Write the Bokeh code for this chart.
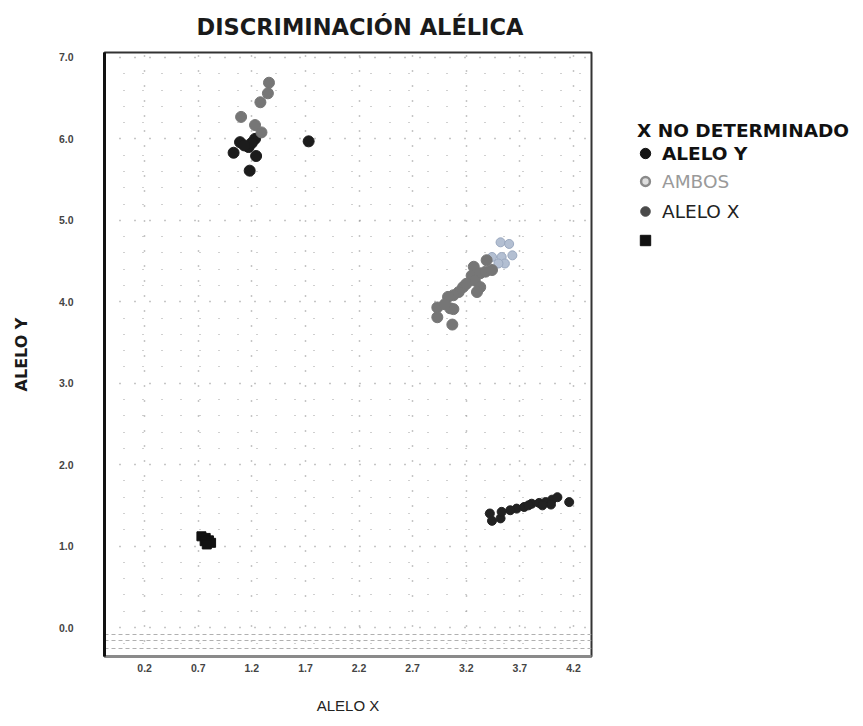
from bokeh.plotting import figure
from bokeh.layouts import row
from bokeh.models import Legend, LegendItem, FixedTicker, Range1d, Grid
from bokeh.embed import file_html
from bokeh.resources import INLINE

# ---- data ----
x_ticks = [0.2, 0.7, 1.2, 1.7, 2.2, 2.7, 3.2, 3.7, 4.2]
y_ticks = [0.0, 1.0, 2.0, 3.0, 4.0, 5.0, 6.0, 7.0]
y_minor = [-0.2, 0.2, 0.4, 0.6, 0.8, 1.2, 1.4, 1.6, 1.8, 2.2, 2.4, 2.6, 2.8,
           3.2, 3.4, 3.6, 3.8, 4.2, 4.4, 4.6, 4.8, 5.2, 5.4, 5.6, 5.8,
           6.2, 6.4, 6.6, 6.8]
strip_lines = [-0.08, -0.16, -0.26]

# ALELO Y (dark points, top-left cluster)
aleloy_x = [1.23, 1.09, 1.03, 1.17, 1.24, 1.18, 1.73, 1.20, 1.13]
aleloy_y = [6.00, 5.96, 5.83, 5.90, 5.79, 5.61, 5.97, 5.95, 5.92]

# grey points (top-left upper part and middle cluster)
grey_x = [1.36, 1.35, 1.28, 1.10, 1.23, 1.29,
          3.27, 3.25, 3.33, 3.28, 3.33, 3.17, 3.13, 3.08, 3.03, 3.05, 3.08,
          2.93, 2.93, 3.07, 3.39, 3.38, 3.44, 3.30, 3.20, 3.00]
grey_y = [6.69, 6.56, 6.45, 6.27, 6.17, 6.08,
          4.43, 4.32, 4.35, 4.26, 4.18, 4.18, 4.12, 4.08, 4.06, 3.92, 3.91,
          3.93, 3.81, 3.72, 4.51, 4.37, 4.39, 4.12, 4.22, 3.97]

# AMBOS (light points at the top of the middle cluster)
ambos_x = [3.44, 3.53, 3.56, 3.50, 3.52, 3.60, 3.63]
ambos_y = [4.55, 4.55, 4.47, 4.47, 4.73, 4.71, 4.57]

# dark points, bottom-right cluster
alelox_x = [3.44, 3.52, 3.42, 3.53, 3.67, 3.74, 3.81, 3.88, 3.94, 4.00,
            4.05, 3.99, 4.16, 3.91, 3.61, 3.78]
alelox_y = [1.31, 1.34, 1.40, 1.42, 1.46, 1.48, 1.52, 1.53, 1.54, 1.57,
            1.60, 1.51, 1.54, 1.50, 1.44, 1.50]

# squares (bottom-left cluster)
ntc_x = [0.73, 0.77, 0.80, 0.76, 0.82, 0.78]
ntc_y = [1.12, 1.10, 1.07, 1.06, 1.04, 1.02]

# no determinado (none)
nd_x = []
nd_y = []

legend_labels = ["X NO DETERMINADO", "ALELO Y", "AMBOS", "ALELO X", " "]

FONT = "Liberation Sans"
BOLD = "DejaVu Sans"

H = 718
FRAME_TOP = 52
FRAME_BOTTOM = 656
p = figure(width=596, height=H, output_backend="svg", toolbar_location=None,
           x_range=Range1d(-0.174, 4.368), y_range=Range1d(-0.356, 7.061),
           min_border_left=104, min_border_right=5, min_border_top=FRAME_TOP,
           min_border_bottom=H - FRAME_BOTTOM)

p.title.text = "DISCRIMINACIÓN ALÉLICA"
p.title.align = "left"
p.title.offset = 92
p.title.vertical_align = "middle"
p.title.text_font = BOLD
p.title.text_font_size = "22.5px"
p.title.text_font_style = "bold"
p.title.text_color = "#1a1a1a"
p.title.standoff = 23

p.outline_line_color = "#333333"
p.outline_line_width = 2
p.background_fill_color = "white"

xax = p.xaxis[0]
xax.ticker = FixedTicker(ticks=x_ticks)
xax.major_label_overrides = {t: f"{t:.1f}" for t in x_ticks}
xax.axis_label = "ALELO X"
xax.axis_label_text_font = FONT
xax.axis_label_text_font_size = "15px"
xax.axis_label_text_font_style = "normal"
xax.axis_label_text_color = "#222222"
xax.axis_label_standoff = 22
xax.major_label_text_font = FONT
xax.major_label_text_font_size = "10.5px"
xax.major_label_text_font_style = "bold"
xax.major_label_text_color = "#444444"
xax.major_label_standoff = 1
xax.major_tick_line_color = None
xax.minor_tick_line_color = None
xax.axis_line_color = "#8a8a8a"
xax.axis_line_width = 3

yax = p.yaxis[0]
yax.ticker = FixedTicker(ticks=y_ticks, minor_ticks=y_minor)
yax.major_label_overrides = {t: f"{t:.1f}" for t in y_ticks}
yax.axis_label = "ALELO Y"
yax.axis_label_text_font = BOLD
yax.axis_label_text_font_size = "16px"
yax.axis_label_text_font_style = "bold"
yax.axis_label_text_color = "#1a1a1a"
yax.axis_label_standoff = 25
yax.major_label_text_font = FONT
yax.major_label_text_font_size = "10.5px"
yax.major_label_text_font_style = "bold"
yax.major_label_text_color = "#444444"
yax.major_label_standoff = 25
yax.major_tick_line_color = None
yax.minor_tick_line_color = None
yax.axis_line_color = "#111111"
yax.axis_line_width = 3

p.xgrid.grid_line_color = "#8c8c8c"
p.xgrid.grid_line_dash = "1 14"
p.xgrid.grid_line_width = 1.5
p.ygrid.grid_line_color = "#8c8c8c"
p.ygrid.grid_line_dash = "1 14"
p.ygrid.grid_line_width = 1.5
p.ygrid.minor_grid_line_color = "#a0a0a0"
p.ygrid.minor_grid_line_dash = "1 18"
p.ygrid.minor_grid_line_width = 1.2
p.add_layout(Grid(dimension=1, ticker=FixedTicker(ticks=strip_lines),
                  grid_line_color="#b0b0b0", grid_line_dash="4 3",
                  grid_line_width=1))

p.scatter(nd_x, nd_y, marker="x", size=13, line_color="#111111", line_width=3)
p.scatter(aleloy_x, aleloy_y, marker="circle", size=11,
          fill_color="#1c1c1c", line_color="#1c1c1c")
p.scatter(ambos_x, ambos_y, marker="circle", size=9,
          fill_color="#b3bfd2", line_color="#9aa8bf")
p.scatter(grey_x, grey_y, marker="circle", size=11,
          fill_color="#767676", line_color="#767676")
p.scatter(alelox_x, alelox_y, marker="circle", size=9,
          fill_color="#222222", line_color="#222222")
p.scatter(ntc_x, ntc_y, marker="square", size=9,
          fill_color="#111111", line_color="#111111")

# ---- legend panel (separate figure to the right; its data lies out of view) ----
LW = 258
lg = figure(width=LW, height=H, output_backend="svg", toolbar_location=None,
            x_axis_location=None, y_axis_location=None,
            x_range=Range1d(-100, -99), y_range=Range1d(-100, -99),
            min_border=0, outline_line_color=None)
lg.grid.visible = False

lr_nd = lg.scatter(nd_x, nd_y, marker="x", line_color="#111111")
lr_y = lg.scatter(aleloy_x, aleloy_y, marker="circle",
                  fill_color="#151515", line_color="#151515")
lr_amb = lg.scatter(ambos_x, ambos_y, marker="circle", fill_color="#dedede",
                    line_color="#8a8a8a", line_width=2.5)
lr_x = lg.scatter(alelox_x, alelox_y, marker="circle",
                  fill_color="#4a4a4a", line_color="#4a4a4a")
lr_sq = lg.scatter(ntc_x, ntc_y, marker="square",
                   fill_color="#111111", line_color="#111111")

# (renderer, row centre y, text colour, weight, glyph box, x of legend, standoff)
leg_rows = [
    (lr_nd, 130, "#111111", "bold", 1, 40, 0),
    (lr_y, 153, "#111111", "bold", 26, 36, 4),
    (lr_amb, 181, "#9a9a9a", "normal", 22, 38, 6),
    (lr_x, 211, "#222222", "normal", 24, 37, 5),
    (lr_sq, 240, "#111111", "normal", 28, 35, 4),
]
for lab, (rend, yc, col, wt, gbox, vx, stand) in zip(legend_labels, leg_rows):
    leg = Legend(items=[LegendItem(label=lab, renderers=[rend])],
                 location=(vx, FRAME_BOTTOM - (yc + 13)),
                 padding=0, margin=0, spacing=0,
                 glyph_width=gbox, glyph_height=26, label_height=26,
                 label_standoff=stand,
                 border_line_color=None, background_fill_alpha=0,
                 label_text_font=BOLD, label_text_font_size="18.5px",
                 label_text_font_style=wt, label_text_color=col)
    lg.add_layout(leg)

layout = row(p, lg)
open("out.html", "w").write(file_html(layout, INLINE))
